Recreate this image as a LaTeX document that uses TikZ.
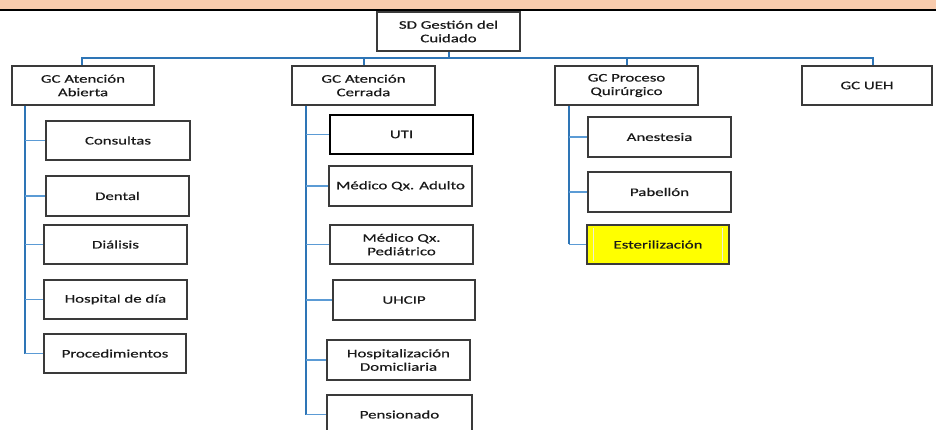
\documentclass[tikz,border=0pt]{standalone}
\usepackage{fontspec}
\setmainfont{Carlito}[FakeStretch=1.45, FakeBold=0.4]
\usetikzlibrary{shadows}
\definecolor{barpeach}{HTML}{F8CBAD}
\definecolor{linkdark}{HTML}{2E75B6}
\definecolor{linklight}{HTML}{5B9BD5}
\definecolor{boxline}{HTML}{3A3A3A}
\definecolor{hilite}{HTML}{FFFF00}
\definecolor{paleline}{HTML}{EDEDD5}

\begin{document}
\begin{tikzpicture}[x=1pt,y=-1pt,
  unit/.style={draw=boxline, line width=1.4pt, fill=white, align=center,
    font=\fontsize{11.6}{13.5}\selectfont, text=black!90, inner sep=0pt,
    minimum width=143pt, minimum height=39pt,
    drop shadow={shadow xshift=1pt, shadow yshift=-1pt, fill=black!40, opacity=1}},
  trunk/.style={draw=linkdark, line width=2.2pt},
  branch/.style={draw=linklight, line width=1.8pt},
  bus/.style={draw=linkdark, line width=2pt}]

\useasboundingbox (0,0) rectangle (936,430);
\clip (0,0) rectangle (936,430);

% header band
\fill[barpeach] (0,0) rectangle (936,9);
\fill[black] (0,9) rectangle (936,11);

% top level
\node[unit] (root) at (448.5,31.5) {SD Gestión del\\Cuidado};

% management units
\node[unit, minimum width=142pt] (gA) at (83,85.5) {GC Atención\\Abierta};
\node[unit] (gC) at (363.5,85.5) {GC Atención\\Cerrada};
\node[unit] (gQ) at (626.5,85.5) {GC Proceso\\Quirúrgico};
\node[unit, minimum width=130pt] (gU) at (867,85.5) {GC UEH};

% open care
\node[unit, minimum width=144pt] (cons) at (118,140.5) {Consultas};
\node[unit, minimum height=40pt] (dent) at (117.5,196) {Dental};
\node[unit] (dial) at (115.5,244.5) {Diálisis};
\node[unit] (hosp) at (115.5,299.5) {Hospital de día};
\node[unit, minimum width=142pt] (proc) at (115,353.5) {Procedimientos};

% closed care
\node[unit, draw=black, line width=2.2pt] (uti) at (401.5,134.5) {UTI};
\node[unit, minimum height=40pt] (mqa) at (400.5,186) {Médico Qx. Adulto};
\node[unit] (mqp) at (401.5,244.5) {Médico Qx.\\Pediátrico};
\node[unit, minimum width=142pt, minimum height=40pt] (uhcip) at (404,300) {UHCIP};
\node[unit, minimum height=40pt] (hdom) at (398.5,360) {Hospitalización\\Domicliaria};
\node[unit, minimum width=145pt] (pens) at (399.5,414.5) {Pensionado};

% surgical process
\node[unit, minimum height=40pt] (anes) at (659.5,137) {Anestesia};
\node[unit, minimum height=40pt] (pab) at (659.5,192) {Pabellón};
\node[unit, minimum width=142pt, fill=hilite] (est) at (658,244.5) {Esterilización};
\draw[paleline, line width=1.2pt]
  ([xshift=7pt,yshift=-4pt]est.north west) -- ([xshift=7pt,yshift=4pt]est.south west)
  ([xshift=-7pt,yshift=-4pt]est.north east) -- ([xshift=-7pt,yshift=4pt]est.south east);

% top bus
\coordinate (busmid) at (448.5,58);
\coordinate (uTop) at ([xshift=6pt]gU.north);
\coordinate (aTop) at ([xshift=-1pt]gA.north);
\draw[bus] (root.south) -- (busmid);
\draw[bus] (aTop) -- (aTop |- busmid) -- (uTop |- busmid) -- (uTop);
\draw[bus] (gC.north) -- (gC.north |- busmid);
\draw[bus] (gQ.north) -- (gQ.north |- busmid);

% trunks below each unit
\coordinate (tA) at ([xshift=14pt]gA.south west);
\coordinate (tC) at ([xshift=15pt]gC.south west);
\coordinate (tQ) at ([xshift=15pt]gQ.south west);

\draw[trunk] (tA) -- (tA |- proc.west);
\foreach \n in {cons,dent,dial,hosp,proc}
  \draw[branch] (tA |- \n.west) -- (\n.west);

\draw[trunk] (tC) -- (tC |- pens.west);
\foreach \n in {uti,mqa,mqp,uhcip,hdom,pens}
  \draw[branch] (tC |- \n.west) -- (\n.west);

\draw[trunk] (tQ) -- (tQ |- est.west);
\foreach \n in {anes,pab,est}
  \draw[branch] (tQ |- \n.west) -- (\n.west);
\end{tikzpicture}
\end{document}
